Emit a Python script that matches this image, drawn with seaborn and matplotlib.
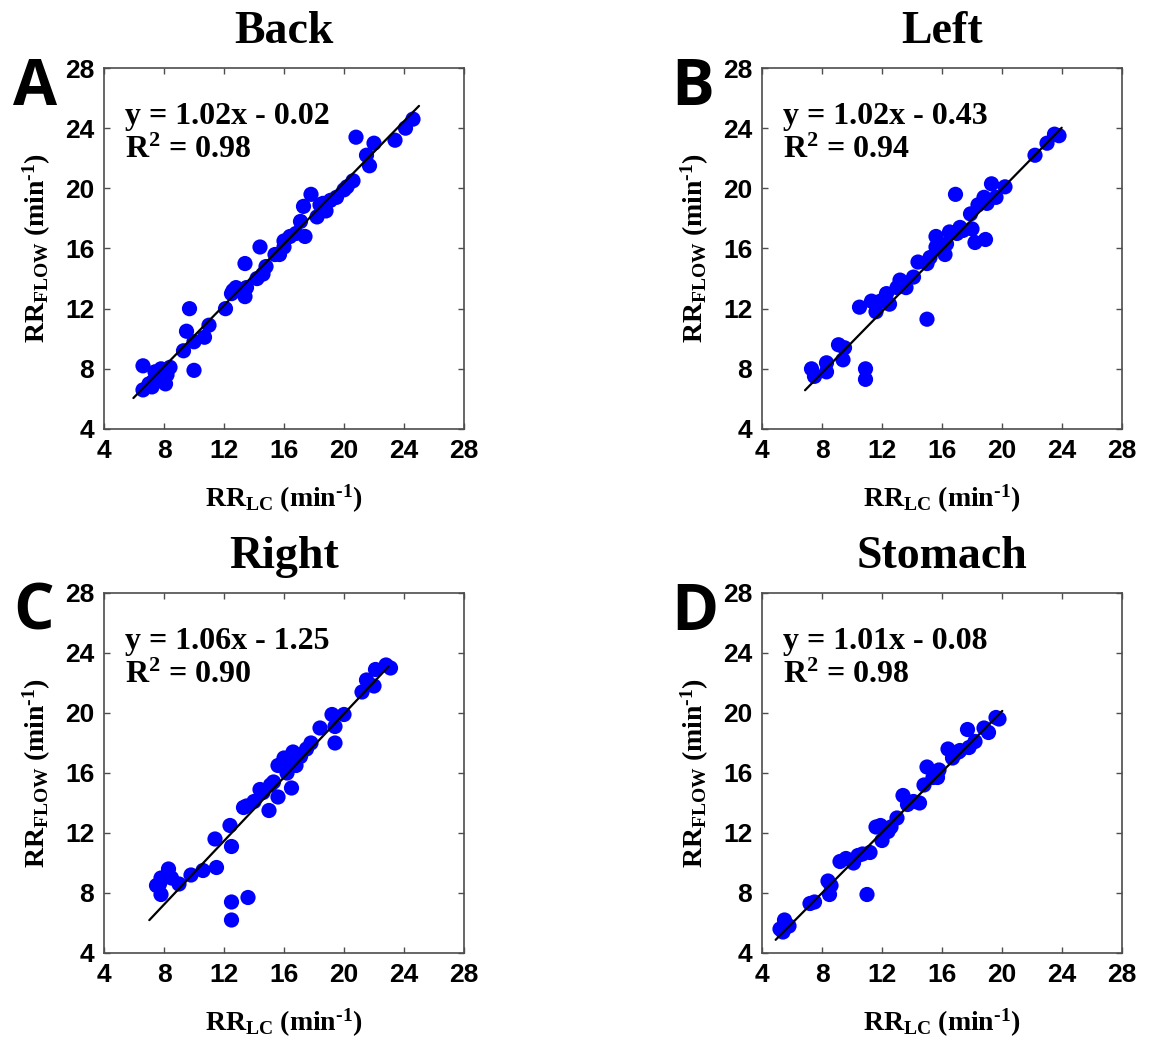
import numpy as np
import pandas as pd
import matplotlib
matplotlib.use("Agg")
import matplotlib.pyplot as plt
import seaborn as sns

# ---------------- data ----------------
titles = ["Back", "Left", "Right", "Stomach"]
panel_letters = ["A", "B", "C", "D"]
slopes = [1.02, 1.02, 1.06, 1.01]
intercepts = [-0.02, -0.43, -1.25, -0.08]
r2_values = [0.98, 0.94, 0.90, 0.98]
fit_x_min = [5.96, 6.87, 7.02, 4.91]
fit_x_max = [25.0, 23.98, 22.96, 20.02]
tick_values = [4, 8, 12, 16, 20, 24, 28]

back_lc = [6.6, 6.6, 7.2, 7.4, 7.7, 8.1, 8.4, 8.2, 7.0, 9.3, 9.5, 9.7, 10.0, 10.0, 10.7,
           11.0, 12.1, 12.5, 12.8, 13.4, 13.4, 13.5, 14.2, 14.4, 14.8, 15.4, 16.0, 16.4,
           17.1, 17.4, 17.3, 17.8, 18.2, 18.4, 18.8, 19.5, 20.0, 20.6, 20.8, 21.5, 21.7,
           22.0, 23.4, 24.1, 24.6, 7.3, 7.8, 12.6, 14.6, 15.7, 16.8, 18.6, 19.1, 20.2, 16.0]
back_flow = [6.6, 8.2, 6.8, 7.8, 7.4, 7.0, 8.1, 7.6, 7.0, 9.2, 10.5, 12.0, 7.9, 9.8, 10.1,
             10.9, 12.0, 13.0, 13.4, 12.8, 15.0, 13.4, 14.0, 16.1, 14.8, 15.6, 16.1, 16.8,
             17.8, 16.8, 18.8, 19.6, 18.1, 18.9, 18.5, 19.4, 19.9, 20.5, 23.4, 22.2, 21.5,
             23.0, 23.2, 24.0, 24.6, 7.2, 8.0, 13.2, 14.3, 15.6, 17.0, 19.0, 19.2, 20.1, 16.5]

left_lc = [7.3, 7.5, 8.3, 8.3, 9.1, 9.4, 9.5, 10.5, 10.9, 10.9, 11.3, 11.6, 12.3, 12.5,
           13.2, 13.6, 14.1, 14.4, 15.0, 15.0, 15.6, 15.6, 16.2, 16.3, 16.9, 17.0, 17.4,
           17.9, 18.0, 18.2, 18.9, 18.4, 18.8, 19.3, 19.6, 20.2, 22.2, 23.0, 23.5, 23.8,
           19.0, 16.5, 15.2, 13.0, 11.9, 17.2]
left_flow = [8.0, 7.5, 7.8, 8.4, 9.6, 8.6, 9.4, 12.1, 8.0, 7.3, 12.5, 11.8, 13.0, 12.3,
             13.9, 13.4, 14.1, 15.1, 11.3, 15.0, 16.8, 16.1, 15.6, 16.3, 19.6, 17.0, 17.2,
             18.3, 17.3, 16.4, 16.6, 18.9, 19.4, 20.3, 19.4, 20.1, 22.2, 23.0, 23.6, 23.5,
             19.0, 17.1, 15.4, 13.4, 12.5, 17.4]

right_lc = [7.8, 7.7, 7.8, 8.3, 8.2, 8.5, 9.0, 9.8, 10.6, 11.5, 11.4, 12.4, 12.5, 12.5,
            12.5, 13.6, 13.3, 14.0, 14.4, 15.0, 15.1, 15.6, 15.6, 16.0, 16.2, 16.5, 16.6,
            16.8, 17.5, 17.8, 18.4, 19.2, 19.4, 19.4, 20.0, 21.2, 21.5, 22.0, 22.1, 22.8,
            23.1, 14.6, 15.3, 16.4, 17.1, 13.5, 7.5]
right_flow = [7.9, 8.6, 9.0, 9.6, 9.1, 9.0, 8.6, 9.2, 9.5, 9.7, 11.6, 12.5, 11.1, 7.4,
              6.2, 7.7, 13.7, 14.1, 14.9, 13.5, 15.2, 14.4, 16.5, 17.0, 16.0, 15.0, 17.4,
              16.5, 17.6, 18.0, 19.0, 19.9, 18.0, 19.1, 19.9, 21.4, 22.2, 21.8, 22.9, 23.2,
              23.0, 14.7, 15.4, 16.6, 17.1, 13.8, 8.5]

stomach_lc = [5.4, 5.5, 5.8, 5.2, 7.2, 7.5, 8.4, 8.5, 8.6, 9.6, 10.1, 10.4, 11.0, 11.2,
              11.6, 11.9, 12.0, 12.6, 13.0, 13.4, 13.7, 14.5, 14.8, 15.0, 15.4, 15.8, 16.4,
              16.7, 17.1, 17.7, 17.8, 18.2, 18.8, 19.1, 19.6, 19.8, 12.4, 14.1, 15.7, 17.2,
              9.2, 10.7]
stomach_flow = [5.4, 6.2, 5.8, 5.6, 7.3, 7.4, 8.8, 7.9, 8.5, 10.3, 10.0, 10.5, 7.9, 10.7,
                12.4, 12.5, 11.5, 12.4, 13.0, 14.5, 13.9, 14.0, 15.2, 16.4, 15.7, 16.2, 17.6,
                17.0, 17.4, 18.9, 17.7, 18.1, 19.0, 18.7, 19.7, 19.6, 12.1, 14.1, 15.7, 17.5,
                10.1, 10.6]

panel_x = [back_lc, left_lc, right_lc, stomach_lc]
panel_y = [back_flow, left_flow, right_flow, stomach_flow]

# ---------------- style ----------------
sns.set_theme(style="white")
plt.rcParams["font.family"] = ["Liberation Serif", "DejaVu Serif"]
plt.rcParams["mathtext.fontset"] = "custom"
plt.rcParams["mathtext.rm"] = "Liberation Serif:bold"
plt.rcParams["mathtext.it"] = "Liberation Serif:bold"
plt.rcParams["mathtext.bf"] = "Liberation Serif:bold"
plt.rcParams["axes.unicode_minus"] = False
plt.rcParams["text.color"] = "black"
plt.rcParams["axes.labelcolor"] = "black"
plt.rcParams["xtick.color"] = "black"
plt.rcParams["ytick.color"] = "black"

W, H = 1150, 1042
fig = plt.figure(figsize=(W / 100, H / 100), dpi=100)

# axes boxes in pixels: (left, top, width, height)
boxes = [(104, 68, 360, 361), (762, 68, 360, 361),
         (104, 593, 360, 360), (762, 593, 360, 360)]
letter_pos = [(13, 105), (671, 105), (13, 630), (671, 630)]

for i in range(4):
    l, t, w, h = boxes[i]
    ax = fig.add_axes([l / W, 1 - (t + h) / H, w / W, h / H])
    df = pd.DataFrame({"x": panel_x[i], "y": panel_y[i]})
    sns.scatterplot(data=df, x="x", y="y", ax=ax, color="#0000FF", s=120,
                    linewidth=0, edgecolor="none", zorder=2)
    fx = np.array([fit_x_min[i], fit_x_max[i]])
    fit_df = pd.DataFrame({"x": fx, "y": slopes[i] * fx + intercepts[i]})
    sns.lineplot(data=fit_df, x="x", y="y", ax=ax, color="black", linewidth=1.6,
                 zorder=3)

    ax.set_xlim(4, 28)
    ax.set_ylim(4, 28)
    ax.set_xticks(tick_values)
    ax.set_yticks(tick_values)
    ax.tick_params(direction="in", length=4, width=1.0, color="#4d4d4d",
                   top=True, right=True, bottom=True, left=True,
                   labelsize=19, pad=7, labelcolor="black")
    for lab in ax.get_xticklabels() + ax.get_yticklabels():
        lab.set_fontfamily("Liberation Sans")
        lab.set_fontweight("bold")
    for sp in ax.spines.values():
        sp.set_color("#4d4d4d")
        sp.set_linewidth(1.2)
        sp.set_visible(True)

    ax.set_title(titles[i], fontsize=33, fontweight="bold", pad=18, color="black")
    ax.set_xlabel("RR$_{\\mathrm{LC}}$ (min$^{\\mathrm{\u20101}}$)", fontsize=20,
                  fontweight="bold")
    ax.set_ylabel("RR$_{\\mathrm{FLOW}}$ (min$^{\\mathrm{\u20101}}$)", fontsize=20,
                  fontweight="bold")
    ax.xaxis.set_label_coords(0.5, -0.15)
    ax.yaxis.set_label_coords(-0.142, 0.5)

    sign = "-" if intercepts[i] < 0 else "+"
    ax.text(0.058, 0.845, f"y = {slopes[i]:.2f}x {sign} {abs(intercepts[i]):.2f}",
            transform=ax.transAxes, fontsize=23, fontweight="bold",
            ha="left", va="baseline", color="black")
    ax.text(0.058, 0.75, r"R$^{\mathrm{2}}$" + f" = {r2_values[i]:.2f}",
            transform=ax.transAxes, fontsize=23, fontweight="bold",
            ha="left", va="baseline", color="black")

    lx, ly = letter_pos[i]
    fig.text(lx / W, 1 - ly / H, panel_letters[i], fontsize=46, fontweight="bold",
             family="Open Sans", ha="left", va="baseline", color="black")

fig.savefig("out.png", dpi=100)
